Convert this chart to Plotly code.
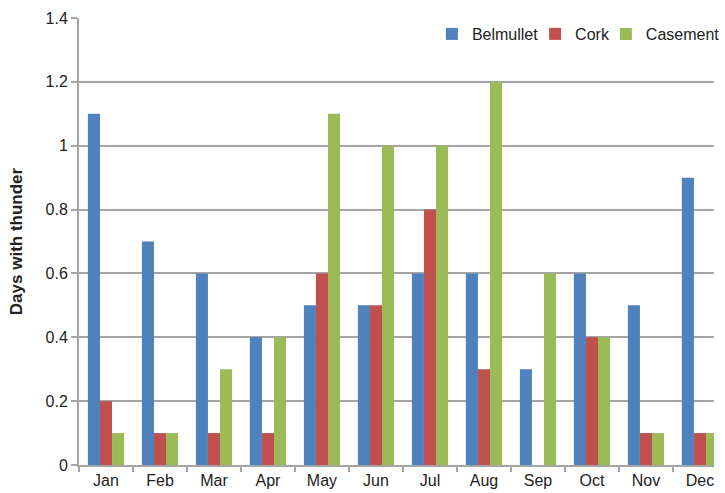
import plotly.graph_objects as go

months = ["Jan", "Feb", "Mar", "Apr", "May", "Jun", "Jul", "Aug", "Sep", "Oct", "Nov", "Dec"]
belmullet = [1.1, 0.7, 0.6, 0.4, 0.5, 0.5, 0.6, 0.6, 0.3, 0.6, 0.5, 0.9]
cork = [0.2, 0.1, 0.1, 0.1, 0.6, 0.5, 0.8, 0.3, 0.0, 0.4, 0.1, 0.1]
casement = [0.1, 0.1, 0.3, 0.4, 1.1, 1.0, 1.0, 1.2, 0.6, 0.4, 0.1, 0.1]
y_ticks = [0, 0.2, 0.4, 0.6, 0.8, 1, 1.2, 1.4]

FONT = "Liberation Sans, Arial, sans-serif"
GRID = "#a5a5a5"
W, H = 725, 493
L, R, T, B = 79, 0, 18, 28
PW = W - L - R
PH = H - T - B

def px_x(px):
    return (px - L) / PW

def px_y(py):
    return (H - B - py) / PH

series = [("Belmullet", belmullet, "#4f81bd", "legend", 452),
          ("Cork", cork, "#c0504d", "legend2", 557),
          ("Casement", casement, "#9bbb59", "legend3", 629)]

fig = go.Figure()
legends = {}
for name, vals, col, lg, sx in series:
    fig.add_trace(go.Bar(x=months, y=vals, name=name, marker_color=col,
                         marker_line_width=0, legend=lg))
    legends[lg] = dict(x=px_x(sx - 14), xanchor="left", y=px_y(34), yanchor="middle",
                       bgcolor="rgba(0,0,0,0)", font=dict(size=16), itemwidth=30,
                       borderwidth=0)

fig.update_layout(
    width=W, height=H,
    margin=dict(l=L, r=R, t=T, b=B, pad=0),
    paper_bgcolor="white", plot_bgcolor="white",
    barmode="group", bargap=0.33, bargroupgap=0,
    font=dict(family=FONT, size=16, color="#222"),
    showlegend=True,
    **legends,
    xaxis=dict(type="category", range=[-0.5, 11.26], tickson="boundaries",
               ticks="outside", ticklen=5, tickwidth=2, tickcolor=GRID,
               showline=True, linecolor=GRID, linewidth=2, showgrid=False,
               tickfont=dict(size=16)),
    yaxis=dict(range=[0, 1.4], tickvals=y_ticks, ticktext=[f"{v:g}" for v in y_ticks],
               ticks="outside", ticklen=6, tickwidth=2, tickcolor=GRID,
               showline=True, linecolor=GRID, linewidth=2,
               showgrid=True, gridcolor=GRID, gridwidth=2,
               zeroline=False, tickfont=dict(size=16),
               title=dict(text="<b>Days with thunder</b>", font=dict(size=17), standoff=19)),
)

fig.write_html("out.html", config={"displayModeBar": False},
               post_script="document.body.style.margin='0';document.body.style.padding='0';")
